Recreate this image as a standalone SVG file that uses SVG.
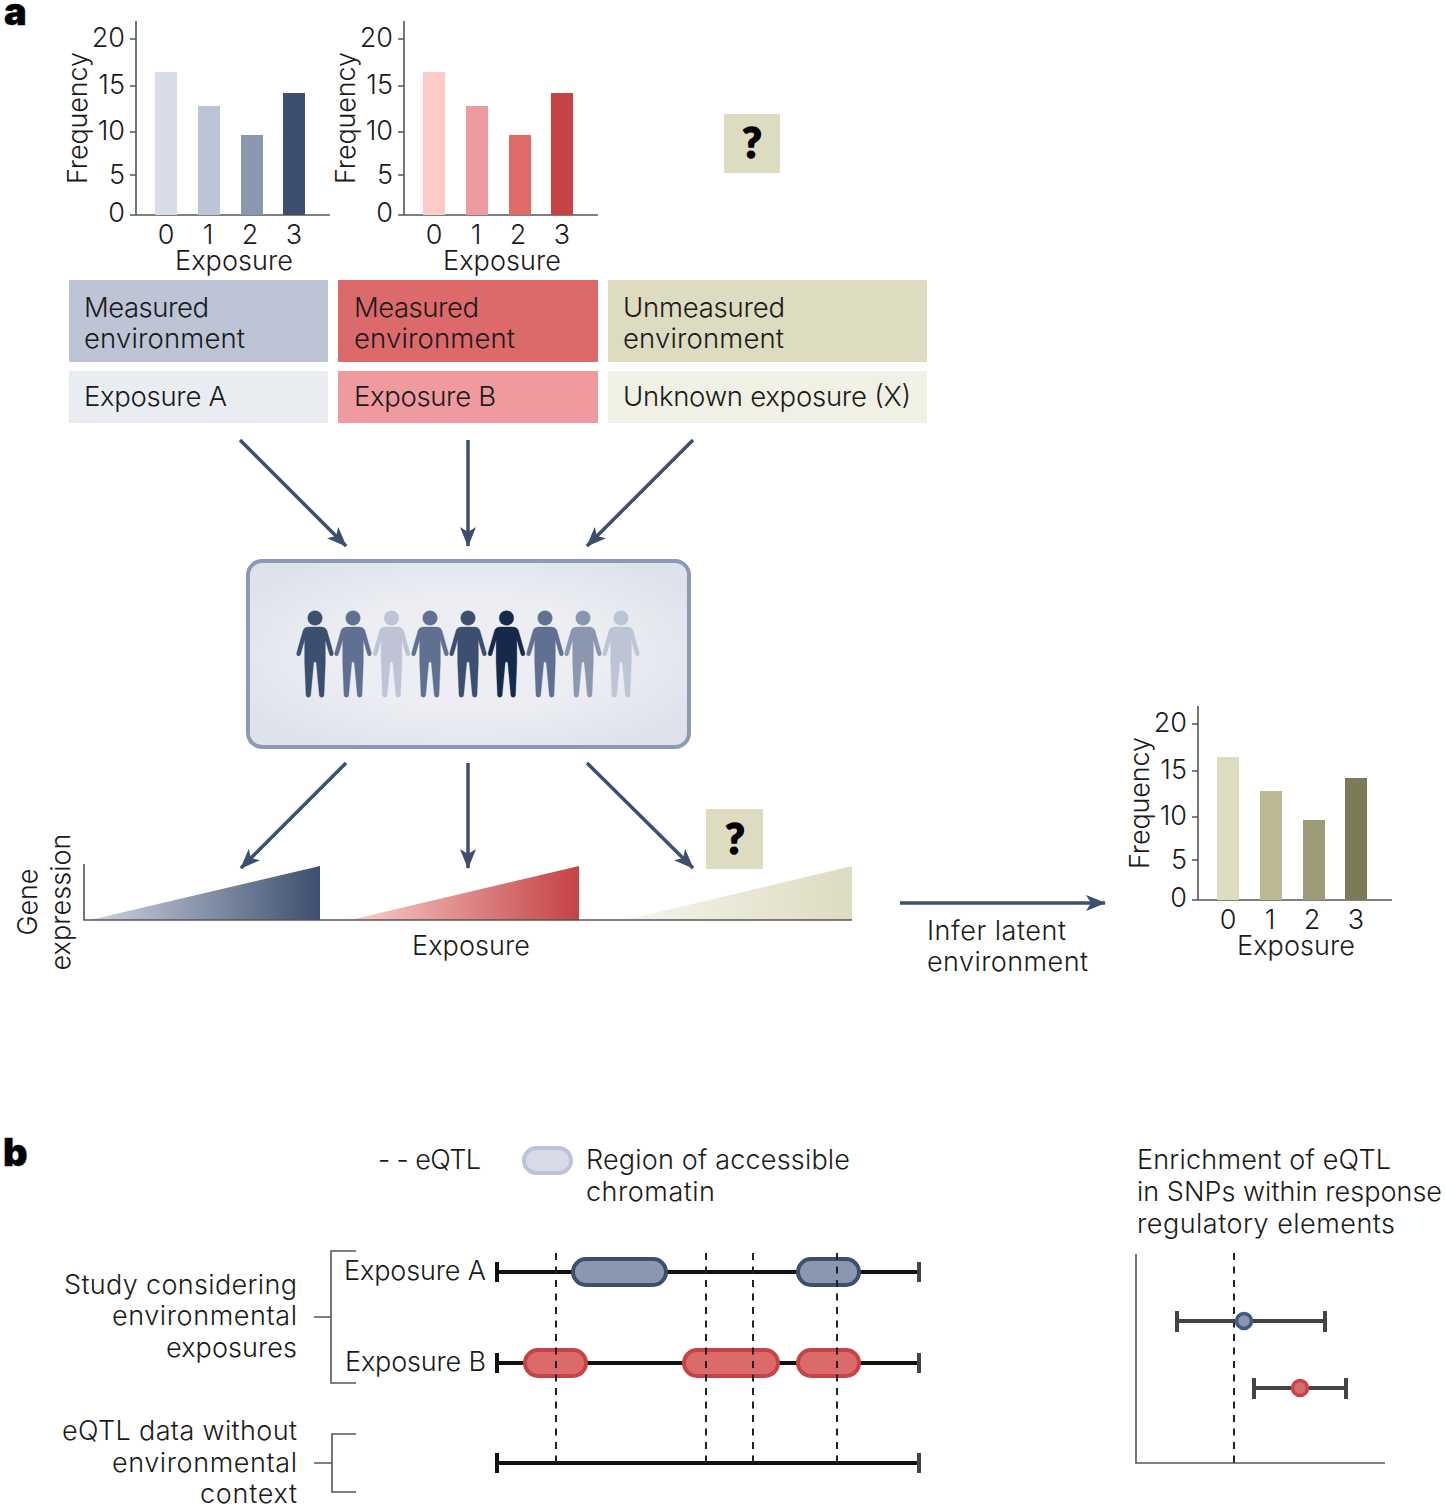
<svg xmlns="http://www.w3.org/2000/svg" width="1445" height="1508" viewBox="0 0 1445 1508">
<style>
text{font-family:"Inter","Liberation Sans",sans-serif;font-weight:300;font-size:27px;fill:#1a1a1a}
.big{font-size:27.500px}
.head{font-family:"Inter","Liberation Sans",sans-serif;font-weight:900;font-size:38px;fill:#000;stroke:#000;stroke-width:.400}
.q{font-family:"Lato","Liberation Sans",sans-serif;font-weight:900;font-size:42px;fill:#000;text-anchor:middle;stroke:#000;stroke-width:1.600}
.e{text-anchor:end}.m{text-anchor:middle}
.ax{stroke:#555;stroke-width:1.600;fill:none}
.arr{stroke:#3d4f6e;stroke-width:3.500;fill:none;marker-end:url(#ah)}
.bl{stroke:#111;stroke-width:4;fill:none}
.cap{stroke:#444;stroke-width:4;fill:none}
.ds{stroke:#222;stroke-width:2;stroke-dasharray:7 6.500;fill:none}
.pa{fill:#8b97ae;stroke:#3d4f6e;stroke-width:4}
.pb{fill:#dd6a6a;stroke:#c54245;stroke-width:4}
.ci{stroke:#444;stroke-width:4;fill:none}
</style>
<defs>
<marker id="ah" viewBox="0 0 20 16" refX="19" refY="8" markerWidth="20" markerHeight="16" markerUnits="userSpaceOnUse" orient="auto"><path d="M0,0 L20,8 L0,16 L5,8Z" fill="#3d4f6e"/></marker>
<radialGradient id="bg" cx="50%" cy="50%" r="60%"><stop offset="0.5" stop-color="#eceef3"/><stop offset="1" stop-color="#dfe2eb"/></radialGradient>
<linearGradient id="tb" x1="0" x2="1" y1="0" y2="0"><stop offset="0" stop-color="#cfd5e2"/><stop offset="1" stop-color="#3d4f6e"/></linearGradient>
<linearGradient id="tr" x1="0" x2="1" y1="0" y2="0"><stop offset="0" stop-color="#f8d0cc"/><stop offset="1" stop-color="#c54245"/></linearGradient>
<linearGradient id="ty" x1="0" x2="1" y1="0" y2="0"><stop offset="0" stop-color="#f6f5ec"/><stop offset="1" stop-color="#dddbc0"/></linearGradient>
<g id="person" transform="scale(.3333)" fill="currentColor" stroke="currentColor" stroke-width="1" stroke-linejoin="round"><circle cx="0" cy="0" r="22"/><path d="M-20,27 L20,27 Q32,27 36,38 L55,105 Q56,113 49,114 Q45,114 43,108 L31,65 L31,135 L27,232 Q26,238 20,238 Q14,238 13,232 L4,135 Q0,128 -4,135 L-13,232 Q-14,238 -20,238 Q-26,238 -27,232 L-31,135 L-31,65 L-43,108 Q-45,114 -49,114 Q-56,113 -55,105 L-36,38 Q-32,27 -20,27Z"/></g>
<g id="labels">
<path class="ax" d="M136,21V215H330M130,39H136M130,86H136M130,132H136M130,175H136M130,215H136"/>
<text x="125" y="47" class="e">20</text><text x="125" y="94" class="e">15</text><text x="125" y="140" class="e">10</text><text x="125" y="184" class="e">5</text><text x="125" y="222" class="e">0</text>
<text transform="translate(87,118) rotate(-90)" class="m" textLength="132">Frequency</text>
<text x="166" y="244" class="m">0</text><text x="208" y="244" class="m">1</text><text x="250" y="244" class="m">2</text><text x="294" y="244" class="m">3</text>
<text x="234" y="270" class="m" textLength="118">Exposure</text>
</g>
</defs>
<text x="4" y="25" class="head">a</text>
<text x="3" y="1166" class="head">b</text>
<g id="chart-a"><use href="#labels"/><rect x="155" y="72" width="22" height="143" fill="#d8dce8"/><rect x="198" y="106" width="22" height="109" fill="#bcc4d5"/><rect x="241" y="135" width="22" height="80" fill="#8b97ae"/><rect x="283" y="93" width="22" height="122" fill="#3d4f6e"/></g>
<g id="chart-b" transform="translate(268,0)"><use href="#labels"/><rect x="155" y="72" width="22" height="143" fill="#fdcbc6"/><rect x="198" y="106" width="22" height="109" fill="#ee9a9e"/><rect x="241" y="135" width="22" height="80" fill="#e06a68"/><rect x="283" y="93" width="22" height="122" fill="#c54245"/></g>
<g id="chart-x" transform="translate(1062,685)"><use href="#labels"/><rect x="155" y="72" width="22" height="143" fill="#dddbc0"/><rect x="198" y="106" width="22" height="109" fill="#bcb995"/><rect x="241" y="135" width="22" height="80" fill="#9d9b78"/><rect x="283" y="93" width="22" height="122" fill="#7d7a58"/></g>
<g id="q1"><rect x="724" y="114" width="56" height="59" fill="#dddbc0"/><text x="752" y="158" class="q">?</text></g>
<g id="q2"><rect x="706" y="809" width="57" height="60" fill="#dddbc0"/><text x="735" y="854" class="q">?</text></g>
<g id="env-a"><rect x="69" y="280" width="259" height="82" fill="#bcc4d5"/><text x="84" y="317" class="big" textLength="125">Measured</text><text x="84" y="348" class="big" textLength="161">environment</text></g>
<g id="env-b"><rect x="338" y="280" width="260" height="82" fill="#dd6a6a"/><text x="354" y="317" class="big" textLength="125">Measured</text><text x="354" y="348" class="big" textLength="161">environment</text></g>
<g id="env-x"><rect x="608" y="280" width="319" height="82" fill="#dddbc0"/><text x="623" y="317" class="big" textLength="162">Unmeasured</text><text x="623" y="348" class="big" textLength="161">environment</text></g>
<g id="exp-a"><rect x="69" y="371" width="259" height="52" fill="#e9ecf1"/><text x="84" y="406" class="big" textLength="143">Exposure A</text></g>
<g id="exp-b"><rect x="338" y="371" width="260" height="52" fill="#ee9a9e"/><text x="354" y="406" class="big" textLength="142">Exposure B</text></g>
<g id="exp-x"><rect x="608" y="371" width="319" height="52" fill="#f1f0e5"/><text x="623" y="406" class="big" textLength="288">Unknown exposure (X)</text></g>
<g id="connectors">
<path class="arr" d="M240,440L346,546"/><path class="arr" d="M468,440V546"/><path class="arr" d="M693,440L587,546"/>
<path class="arr" d="M346,763L241,868"/><path class="arr" d="M468,763V868"/><path class="arr" d="M587,763L693,868"/>
<path class="arr" d="M900,903H1105"/>
</g>
<g id="population">
<rect x="248" y="561" width="441" height="186" rx="14" fill="url(#bg)" stroke="#8d9ab5" stroke-width="4"/>
<use href="#person" x="315" y="618" color="#3d4f6e"/><use href="#person" x="353" y="618" color="#5f7090"/><use href="#person" x="391.500" y="618" color="#bcc4d5"/><use href="#person" x="430" y="618" color="#5f7090"/><use href="#person" x="468" y="618" color="#3d4f6e"/><use href="#person" x="506.500" y="618" color="#16294a"/><use href="#person" x="545" y="618" color="#5f7090"/><use href="#person" x="583" y="618" color="#8b97ae"/><use href="#person" x="621" y="618" color="#bcc4d5"/>
</g>
<g id="gene-expression">
<path d="M90,920L320,866V920Z" fill="url(#tb)"/><path d="M350,920L579,866V920Z" fill="url(#tr)"/><path d="M625,920L852,866V920Z" fill="url(#ty)"/>
<path class="ax" d="M84,864V920H852"/>
<text transform="translate(37,902) rotate(-90)" class="m" textLength="67">Gene</text>
<text transform="translate(70,902) rotate(-90)" class="m" textLength="137">expression</text>
<text x="471" y="955" class="m" textLength="118">Exposure</text>
</g>
<g id="infer"><text x="927" y="940" textLength="139">Infer latent</text><text x="927" y="971" textLength="161">environment</text></g>
<g id="legend">
<text x="378" y="1169" textLength="103">- - eQTL</text>
<rect x="524" y="1148" width="47" height="25" rx="12.500" fill="#d8dce8" stroke="#bcc4d5" stroke-width="4"/>
<text x="586" y="1169" textLength="264">Region of accessible</text><text x="586" y="1201" textLength="129">chromatin</text>
<text x="1137" y="1169" textLength="254">Enrichment of eQTL</text><text x="1137" y="1201" textLength="305">in SNPs within response</text><text x="1137" y="1233" textLength="258">regulatory elements</text>
</g>
<g id="study">
<text x="297" y="1294" class="e" textLength="233">Study considering</text><text x="297" y="1325" class="e" textLength="185">environmental</text><text x="297" y="1357" class="e" textLength="131">exposures</text>
<text x="297" y="1440" class="e" textLength="235">eQTL data without</text><text x="297" y="1472" class="e" textLength="185">environmental</text><text x="297" y="1503" class="e" textLength="97">context</text>
<path class="ax" d="M356,1251H331V1383H356M314,1317H331M356,1434H332V1492H356M314,1463H332"/>
<text x="344" y="1280" textLength="142">Exposure A</text><text x="345" y="1371" textLength="141">Exposure B</text>
</g>
<g id="tracks">
<path class="bl" d="M497,1272H919M497,1363H919M497,1463H919"/>
<path class="bl" d="M497,1262V1282M497,1353V1373M497,1453V1473"/>
<path class="cap" d="M919,1262V1282M919,1353V1373M919,1453V1473"/>
<rect class="pa" x="573" y="1259" width="93" height="26" rx="13"/><rect class="pa" x="798" y="1259" width="61" height="26" rx="13"/>
<rect class="pb" x="525" y="1350" width="61" height="26" rx="13"/><rect class="pb" x="684" y="1350" width="94" height="26" rx="13"/><rect class="pb" x="798" y="1350" width="61" height="26" rx="13"/>
<path class="ds" d="M556,1253V1463M706,1253V1463M753,1253V1463M837,1253V1463"/>
</g>
<g id="forest">
<path class="ax" d="M1136,1254V1463H1385"/>
<path class="ds" d="M1234,1253V1463"/>
<path class="ci" d="M1177,1311V1332M1177,1321H1325M1325,1311V1332M1254,1378V1399M1254,1388H1346M1346,1378V1399"/>
<circle cx="1244" cy="1321" r="7.500" fill="#8b97ae" stroke="#3d5a80" stroke-width="3.500"/>
<circle cx="1300" cy="1388" r="7.500" fill="#dd6a6a" stroke="#c9434a" stroke-width="3.500"/>
</g>
</svg>
